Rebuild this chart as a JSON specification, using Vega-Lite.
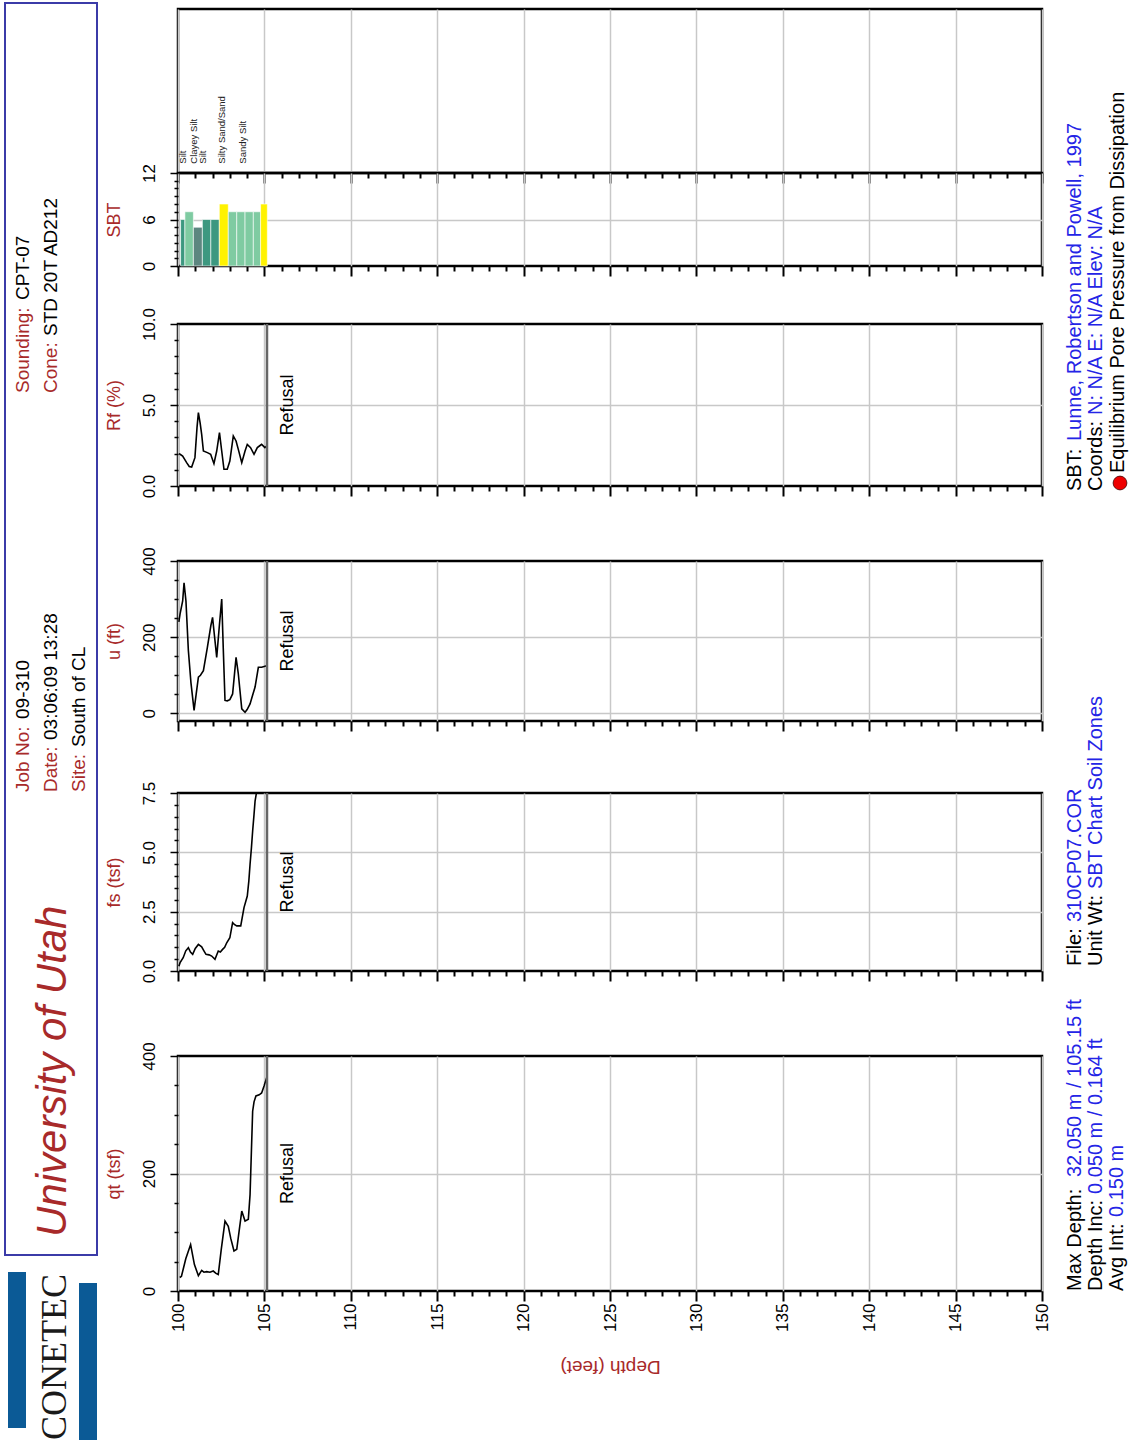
{
  "$schema": "https://vega.github.io/schema/vega-lite/v6.json",
  "padding": {"left": 4, "top": 2, "right": 0, "bottom": 0},
  "background": "#ffffff",
  "config": {
    "font": "Liberation Sans",
    "view": {"stroke": "#000000", "strokeWidth": 2.5},
    "text": {"font": "Liberation Sans"},
    "axis": {
      "labelFont": "Liberation Sans", "labelFontSize": 17, "labelColor": "#000000",
      "titleFont": "Liberation Sans", "titleFontSize": 18, "titleFontWeight": "normal", "titleColor": "#a82a2a",
      "tickColor": "#000000", "gridColor": "#c8c8c8", "gridWidth": 1.5
    }
  },
  "datasets": {
    "qt": [
      {"depth": 100.1, "v": 23}, {"depth": 100.2, "v": 25}, {"depth": 100.45, "v": 55}, {"depth": 100.73, "v": 79},
      {"depth": 100.95, "v": 45}, {"depth": 101.18, "v": 26}, {"depth": 101.37, "v": 35}, {"depth": 101.5, "v": 32},
      {"depth": 101.66, "v": 33}, {"depth": 101.85, "v": 32}, {"depth": 102.04, "v": 34}, {"depth": 102.2, "v": 30},
      {"depth": 102.33, "v": 28}, {"depth": 102.5, "v": 70}, {"depth": 102.72, "v": 119}, {"depth": 102.91, "v": 110},
      {"depth": 103.05, "v": 90}, {"depth": 103.24, "v": 68}, {"depth": 103.4, "v": 71}, {"depth": 103.55, "v": 105},
      {"depth": 103.69, "v": 136}, {"depth": 103.88, "v": 119}, {"depth": 104.07, "v": 122}, {"depth": 104.17, "v": 164},
      {"depth": 104.25, "v": 240}, {"depth": 104.32, "v": 306}, {"depth": 104.4, "v": 322}, {"depth": 104.51, "v": 332},
      {"depth": 104.7, "v": 334}, {"depth": 104.84, "v": 337}, {"depth": 104.98, "v": 349}, {"depth": 105.13, "v": 363}
    ],
    "fs": [
      {"depth": 100.05, "v": 0.2}, {"depth": 100.12, "v": 0.35}, {"depth": 100.3, "v": 0.56}, {"depth": 100.45, "v": 0.85},
      {"depth": 100.6, "v": 0.98}, {"depth": 100.72, "v": 0.8}, {"depth": 100.85, "v": 0.7}, {"depth": 101.0, "v": 0.95},
      {"depth": 101.18, "v": 1.12}, {"depth": 101.37, "v": 1.02}, {"depth": 101.5, "v": 0.85}, {"depth": 101.62, "v": 0.7},
      {"depth": 101.8, "v": 0.68}, {"depth": 101.95, "v": 0.63}, {"depth": 102.14, "v": 0.49}, {"depth": 102.33, "v": 0.84},
      {"depth": 102.45, "v": 0.8}, {"depth": 102.58, "v": 0.91}, {"depth": 102.7, "v": 1.0}, {"depth": 102.82, "v": 1.19},
      {"depth": 103.0, "v": 1.4}, {"depth": 103.16, "v": 2.04}, {"depth": 103.28, "v": 1.95}, {"depth": 103.4, "v": 1.9},
      {"depth": 103.63, "v": 1.9}, {"depth": 103.82, "v": 2.67}, {"depth": 104.01, "v": 3.16}, {"depth": 104.1, "v": 3.8},
      {"depth": 104.17, "v": 4.5}, {"depth": 104.25, "v": 5.2}, {"depth": 104.32, "v": 5.9}, {"depth": 104.4, "v": 6.6},
      {"depth": 104.46, "v": 7.16}, {"depth": 104.55, "v": 7.55}, {"depth": 104.7, "v": 8.6}, {"depth": 104.9, "v": 10},
      {"depth": 105.13, "v": 11.5}
    ],
    "u": [
      {"depth": 100.05, "v": 240}, {"depth": 100.12, "v": 261}, {"depth": 100.27, "v": 295}, {"depth": 100.35, "v": 343},
      {"depth": 100.46, "v": 295}, {"depth": 100.6, "v": 165}, {"depth": 100.75, "v": 80}, {"depth": 100.93, "v": 8},
      {"depth": 101.05, "v": 50}, {"depth": 101.18, "v": 95}, {"depth": 101.3, "v": 100}, {"depth": 101.47, "v": 112},
      {"depth": 101.7, "v": 173}, {"depth": 101.9, "v": 230}, {"depth": 102.0, "v": 252}, {"depth": 102.08, "v": 217},
      {"depth": 102.24, "v": 147}, {"depth": 102.4, "v": 234}, {"depth": 102.53, "v": 300}, {"depth": 102.62, "v": 170},
      {"depth": 102.72, "v": 34}, {"depth": 102.85, "v": 33}, {"depth": 103.0, "v": 36}, {"depth": 103.16, "v": 51},
      {"depth": 103.36, "v": 147}, {"depth": 103.49, "v": 104}, {"depth": 103.69, "v": 12}, {"depth": 103.88, "v": 3},
      {"depth": 104.0, "v": 10}, {"depth": 104.17, "v": 25}, {"depth": 104.3, "v": 45}, {"depth": 104.46, "v": 69},
      {"depth": 104.65, "v": 121}, {"depth": 104.84, "v": 121}, {"depth": 105.13, "v": 125}
    ],
    "rf": [
      {"depth": 100.05, "v": 2.0}, {"depth": 100.12, "v": 1.96}, {"depth": 100.27, "v": 1.85}, {"depth": 100.5, "v": 1.44},
      {"depth": 100.65, "v": 1.2}, {"depth": 100.79, "v": 1.17}, {"depth": 100.98, "v": 1.75}, {"depth": 101.1, "v": 3.6},
      {"depth": 101.18, "v": 4.53}, {"depth": 101.28, "v": 3.9}, {"depth": 101.37, "v": 3.19}, {"depth": 101.47, "v": 2.16},
      {"depth": 101.7, "v": 2.06}, {"depth": 101.89, "v": 1.96}, {"depth": 102.08, "v": 1.38}, {"depth": 102.24, "v": 2.16},
      {"depth": 102.4, "v": 3.29}, {"depth": 102.53, "v": 2.16}, {"depth": 102.66, "v": 1.03}, {"depth": 102.85, "v": 1.03},
      {"depth": 103.0, "v": 1.54}, {"depth": 103.2, "v": 3.09}, {"depth": 103.36, "v": 2.78}, {"depth": 103.49, "v": 2.26},
      {"depth": 103.69, "v": 1.44}, {"depth": 103.88, "v": 2.16}, {"depth": 104.01, "v": 2.57}, {"depth": 104.2, "v": 2.37},
      {"depth": 104.4, "v": 1.96}, {"depth": 104.59, "v": 2.37}, {"depth": 104.75, "v": 2.5}, {"depth": 104.84, "v": 2.57},
      {"depth": 105.03, "v": 2.37}, {"depth": 105.13, "v": 2.47}
    ],
    "sbt": [
      {"depth": 100.15, "depth_end": 100.4, "zone": 6}, {"depth": 100.4, "depth_end": 100.89, "zone": 7},
      {"depth": 100.89, "depth_end": 101.41, "zone": 5}, {"depth": 101.41, "depth_end": 101.9, "zone": 6},
      {"depth": 101.9, "depth_end": 102.39, "zone": 6}, {"depth": 102.39, "depth_end": 102.91, "zone": 8},
      {"depth": 102.91, "depth_end": 103.4, "zone": 7}, {"depth": 103.4, "depth_end": 103.88, "zone": 7},
      {"depth": 103.88, "depth_end": 104.36, "zone": 7}, {"depth": 104.36, "depth_end": 104.78, "zone": 7},
      {"depth": 104.78, "depth_end": 105.17, "zone": 8}
    ],
    "sbt_labels": [
      {"depth": 100.31, "label": "Silt"}, {"depth": 100.93, "label": "Clayey Silt"}, {"depth": 101.47, "label": "Silt"},
      {"depth": 102.53, "label": "Silty Sand/Sand"}, {"depth": 103.74, "label": "Sandy Silt"}
    ],
    "refusal": [{"depth": 105.15, "label": "Refusal"}],
    "header_box": [{"across": 5, "across2": 97, "along": 3, "along2": 1255}],
    "logo_bars": [
      {"across": 8, "across2": 26, "along": 1272, "along2": 1428},
      {"across": 79, "across2": 97, "along": 1283, "along2": 1440}
    ],
    "logo_text": [{"across": 55, "along": 1440, "text": "CONETEC"}],
    "header_labels": [
      {"across": 23, "along": 393, "text": "Sounding:"}, {"across": 51, "along": 393, "text": "Cone:"},
      {"across": 23, "along": 792, "text": "Job No:"}, {"across": 51, "along": 792, "text": "Date:"},
      {"across": 79, "along": 792, "text": "Site:"}
    ],
    "header_values": [
      {"across": 23, "along": 300, "text": "CPT-07"}, {"across": 51, "along": 336, "text": "STD 20T  AD212"},
      {"across": 23, "along": 719, "text": "09-310"}, {"across": 51, "along": 740, "text": "03:06:09  13:28"},
      {"across": 79, "along": 747, "text": "South of CL"}
    ],
    "header_title": [{"across": 53, "along": 1237, "text": "University of Utah"}],
    "footer_labels": [
      {"across": 1073, "along": 1290, "text": "Max Depth:"}, {"across": 1094, "along": 1290, "text": "Depth Inc:"},
      {"across": 1115, "along": 1290, "text": "Avg Int:"}, {"across": 1073, "along": 965, "text": "File:"},
      {"across": 1094, "along": 965, "text": "Unit Wt:"}, {"across": 1073, "along": 490, "text": "SBT:"},
      {"across": 1094, "along": 490, "text": "Coords:"},
      {"across": 1116, "along": 472, "text": "Equilibrium Pore Pressure from Dissipation"}
    ],
    "footer_values": [
      {"across": 1073, "along": 1176, "text": "32.050 m /  105.15 ft"}, {"across": 1094, "along": 1193, "text": "0.050 m / 0.164 ft"},
      {"across": 1115, "along": 1216, "text": "0.150 m"}, {"across": 1073, "along": 921, "text": "310CP07.COR"},
      {"across": 1094, "along": 888, "text": "SBT Chart Soil Zones"}, {"across": 1073, "along": 440, "text": "Lunne, Robertson and Powell, 1997"},
      {"across": 1094, "along": 414, "text": "N: N/A E: N/A Elev: N/A"}
    ],
    "footer_marker": [{"across": 1118, "along": 482}]
  },
  "hconcat": [
    {
      "width": 92, "height": 1437,
      "view": {"stroke": null},
      "encoding": {
        "x": {"field": "across", "type": "quantitative", "scale": {"domain": [5, 97], "nice": false, "zero": false}, "axis": null},
        "y": {"field": "along", "type": "quantitative", "scale": {"domain": [3, 1440], "nice": false, "zero": false, "reverse": true}, "axis": null}
      },
      "layer": [
        {"data": {"name": "header_box"}, "mark": {"type": "rect", "filled": false, "color": "#3b3ba8", "strokeWidth": 2},
         "encoding": {"x2": {"field": "across2"}, "y2": {"field": "along2"}}},
        {"data": {"name": "logo_bars"}, "mark": {"type": "rect", "color": "#0b5a96"},
         "encoding": {"x2": {"field": "across2"}, "y2": {"field": "along2"}}},
        {"data": {"name": "logo_text"}, "mark": {"type": "text", "angle": 270, "align": "left", "baseline": "middle", "font": "Liberation Serif", "fontSize": 36, "color": "#1a1a1a"},
         "encoding": {"text": {"field": "text"}}},
        {"data": {"name": "header_labels"}, "mark": {"type": "text", "angle": 270, "align": "left", "baseline": "middle", "fontSize": 19, "color": "#a82a2a"},
         "encoding": {"text": {"field": "text"}}},
        {"data": {"name": "header_values"}, "mark": {"type": "text", "angle": 270, "align": "left", "baseline": "middle", "fontSize": 19, "color": "#000000"},
         "encoding": {"text": {"field": "text"}}},
        {"data": {"name": "header_title"}, "mark": {"type": "text", "angle": 270, "align": "left", "baseline": "middle", "fontSize": 42, "fontStyle": "italic", "color": "#a82a2a"},
         "encoding": {"text": {"field": "text"}}}
      ]
    },
    {
      "vconcat": [
        {"width": 864, "height": 6, "data": {"values": []}, "mark": "point", "view": {"stroke": null}},
        {
          "width": 864, "height": 164,
          "data": {"name": "sbt_labels"},
          "mark": {"type": "text", "angle": 270, "align": "left", "baseline": "middle", "fontSize": 9.5, "color": "#222222"},
          "encoding": {
            "x": {"field": "depth", "type": "quantitative", "scale": {"domain": [100, 150], "nice": false, "zero": false},
                  "axis": {"values": [100,101,102,103,104,105,106,107,108,109,110,111,112,113,114,115,116,117,118,119,120,121,122,123,124,125,126,127,128,129,130,131,132,133,134,135,136,137,138,139,140,141,142,143,144,145,146,147,148,149,150],
                           "labels": false, "title": null, "domain": false, "grid": true,
                           "gridOpacity": {"condition": {"test": "datum.value % 5 === 0", "value": 1}, "value": 0},
                           "tickSize": {"condition": {"test": "datum.value % 5 === 0", "value": 10}, "value": 5}, "tickWidth": 2}},
            "y": {"datum": 13.2, "type": "quantitative", "scale": {"domain": [12, 33.16], "nice": false, "zero": false}, "axis": null},
            "text": {"field": "label"}
          }
        },
        {
          "width": 864, "height": 93,
          "data": {"name": "sbt"},
          "mark": {"type": "bar", "stroke": "#ffffff", "strokeWidth": 0.6},
          "encoding": {
            "x": {"field": "depth", "type": "quantitative", "scale": {"domain": [100, 150], "nice": false, "zero": false},
                  "axis": {"values": [100,101,102,103,104,105,106,107,108,109,110,111,112,113,114,115,116,117,118,119,120,121,122,123,124,125,126,127,128,129,130,131,132,133,134,135,136,137,138,139,140,141,142,143,144,145,146,147,148,149,150],
                           "labels": false, "title": null, "domain": false, "grid": true,
                           "gridOpacity": {"condition": {"test": "datum.value % 5 === 0", "value": 1}, "value": 0},
                           "tickSize": {"condition": {"test": "datum.value % 5 === 0", "value": 10}, "value": 5}, "tickWidth": 2}},
            "x2": {"field": "depth_end"},
            "y": {"field": "zone", "type": "quantitative", "scale": {"domain": [0, 12], "nice": false},
                  "axis": {"values": [0,1,2,3,4,5,6,7,8,9,10,11,12], "labelExpr": "datum.value % 6 === 0 ? datum.label : ''",
                           "labelAngle": 270, "labelAlign": "center", "labelBaseline": "bottom", "labelPadding": 12, "labelFlush": false, "labelOverlap": false,
                           "domain": false, "grid": true, "gridOpacity": {"condition": {"test": "datum.value === 6", "value": 1}, "value": 0},
                           "tickSize": {"condition": {"test": "datum.value % 6 === 0", "value": 8}, "value": 4}, "tickWidth": 1.5,
                           "title": "SBT", "titlePadding": 17}},
            "y2": {"datum": 0},
            "color": {"field": "zone", "type": "nominal", "scale": {"domain": [5, 6, 7, 8], "range": ["#5d8680", "#3d9880", "#7fcba2", "#fff200"]}, "legend": null}
          }
        },
        {"width": 864, "height": 58, "data": {"values": []}, "mark": "point", "view": {"stroke": null}},
        {
          "width": 864, "height": 162,
          "encoding": {
            "x": {"field": "depth", "type": "quantitative", "scale": {"domain": [100, 150], "nice": false, "zero": false},
                  "axis": {"values": [100,101,102,103,104,105,106,107,108,109,110,111,112,113,114,115,116,117,118,119,120,121,122,123,124,125,126,127,128,129,130,131,132,133,134,135,136,137,138,139,140,141,142,143,144,145,146,147,148,149,150],
                           "labels": false, "title": null, "domain": false, "grid": true,
                           "gridOpacity": {"condition": {"test": "datum.value % 5 === 0", "value": 1}, "value": 0},
                           "tickSize": {"condition": {"test": "datum.value % 5 === 0", "value": 10}, "value": 5}, "tickWidth": 2}}
          },
          "layer": [
            {"data": {"name": "rf"}, "mark": {"type": "line", "color": "#000000", "strokeWidth": 1.6, "clip": true},
             "encoding": {
               "y": {"field": "v", "type": "quantitative", "scale": {"domain": [0, 10], "nice": false},
                     "axis": {"values": [0,1,2,3,4,5,6,7,8,9,10], "labelExpr": "datum.value % 5 === 0 ? format(datum.value, '.1f') : ''",
                              "labelAngle": 270, "labelAlign": "center", "labelBaseline": "bottom", "labelPadding": 12, "labelFlush": false, "labelOverlap": false,
                              "domain": false, "grid": true, "gridOpacity": {"condition": {"test": "datum.value === 5", "value": 1}, "value": 0},
                              "tickSize": {"condition": {"test": "datum.value % 5 === 0", "value": 8}, "value": 4}, "tickWidth": 1.5,
                              "title": "Rf (%)", "titlePadding": 17}}
             }},
            {"data": {"name": "refusal"}, "mark": {"type": "rule", "color": "#666666", "strokeWidth": 2.5}, "encoding": {}},
            {"data": {"name": "refusal"}, "mark": {"type": "text", "angle": 270, "align": "center", "baseline": "middle", "dy": 21, "fontSize": 18, "color": "#000000"},
             "encoding": {
               "y": {"datum": 5, "type": "quantitative", "scale": {"domain": [0, 10], "nice": false},
                     "axis": {"values": [0,1,2,3,4,5,6,7,8,9,10], "labelExpr": "datum.value % 5 === 0 ? format(datum.value, '.1f') : ''",
                              "labelAngle": 270, "labelAlign": "center", "labelBaseline": "bottom", "labelPadding": 12, "labelFlush": false, "labelOverlap": false,
                              "domain": false, "grid": true, "gridOpacity": {"condition": {"test": "datum.value === 5", "value": 1}, "value": 0},
                              "tickSize": {"condition": {"test": "datum.value % 5 === 0", "value": 8}, "value": 4}, "tickWidth": 1.5,
                              "title": "Rf (%)", "titlePadding": 17}},
               "text": {"field": "label"}}}
          ]
        },
        {"width": 864, "height": 75, "data": {"values": []}, "mark": "point", "view": {"stroke": null}},
        {
          "width": 864, "height": 160,
          "encoding": {
            "x": {"field": "depth", "type": "quantitative", "scale": {"domain": [100, 150], "nice": false, "zero": false},
                  "axis": {"values": [100,101,102,103,104,105,106,107,108,109,110,111,112,113,114,115,116,117,118,119,120,121,122,123,124,125,126,127,128,129,130,131,132,133,134,135,136,137,138,139,140,141,142,143,144,145,146,147,148,149,150],
                           "labels": false, "title": null, "domain": false, "grid": true,
                           "gridOpacity": {"condition": {"test": "datum.value % 5 === 0", "value": 1}, "value": 0},
                           "tickSize": {"condition": {"test": "datum.value % 5 === 0", "value": 10}, "value": 5}, "tickWidth": 2}}
          },
          "layer": [
            {"data": {"name": "u"}, "mark": {"type": "line", "color": "#000000", "strokeWidth": 1.6, "clip": true},
             "encoding": {
               "y": {"field": "v", "type": "quantitative", "scale": {"domain": [-20, 400], "nice": false, "zero": false},
                     "axis": {"values": [0,50,100,150,200,250,300,350,400], "labelExpr": "datum.value % 200 === 0 ? datum.label : ''",
                              "labelAngle": 270, "labelAlign": "center", "labelBaseline": "bottom", "labelPadding": 12, "labelFlush": false, "labelOverlap": false,
                              "domain": false, "grid": true, "gridOpacity": {"condition": {"test": "datum.value === 0 || datum.value === 200", "value": 1}, "value": 0},
                              "tickSize": {"condition": {"test": "datum.value % 200 === 0", "value": 8}, "value": 4}, "tickWidth": 1.5,
                              "title": "u (ft)", "titlePadding": 17}}
             }},
            {"data": {"name": "refusal"}, "mark": {"type": "rule", "color": "#666666", "strokeWidth": 2.5}, "encoding": {}},
            {"data": {"name": "refusal"}, "mark": {"type": "text", "angle": 270, "align": "center", "baseline": "middle", "dy": 21, "fontSize": 18, "color": "#000000"},
             "encoding": {
               "y": {"datum": 190, "type": "quantitative", "scale": {"domain": [-20, 400], "nice": false, "zero": false},
                     "axis": {"values": [0,50,100,150,200,250,300,350,400], "labelExpr": "datum.value % 200 === 0 ? datum.label : ''",
                              "labelAngle": 270, "labelAlign": "center", "labelBaseline": "bottom", "labelPadding": 12, "labelFlush": false, "labelOverlap": false,
                              "domain": false, "grid": true, "gridOpacity": {"condition": {"test": "datum.value === 0 || datum.value === 200", "value": 1}, "value": 0},
                              "tickSize": {"condition": {"test": "datum.value % 200 === 0", "value": 8}, "value": 4}, "tickWidth": 1.5,
                              "title": "u (ft)", "titlePadding": 17}},
               "text": {"field": "label"}}}
          ]
        },
        {"width": 864, "height": 72, "data": {"values": []}, "mark": "point", "view": {"stroke": null}},
        {
          "width": 864, "height": 178,
          "encoding": {
            "x": {"field": "depth", "type": "quantitative", "scale": {"domain": [100, 150], "nice": false, "zero": false},
                  "axis": {"values": [100,101,102,103,104,105,106,107,108,109,110,111,112,113,114,115,116,117,118,119,120,121,122,123,124,125,126,127,128,129,130,131,132,133,134,135,136,137,138,139,140,141,142,143,144,145,146,147,148,149,150],
                           "labels": false, "title": null, "domain": false, "grid": true,
                           "gridOpacity": {"condition": {"test": "datum.value % 5 === 0", "value": 1}, "value": 0},
                           "tickSize": {"condition": {"test": "datum.value % 5 === 0", "value": 10}, "value": 5}, "tickWidth": 2}}
          },
          "layer": [
            {"data": {"name": "fs"}, "mark": {"type": "line", "color": "#000000", "strokeWidth": 1.6, "clip": true},
             "encoding": {
               "y": {"field": "v", "type": "quantitative", "scale": {"domain": [0, 7.5], "nice": false},
                     "axis": {"values": [0,0.5,1,1.5,2,2.5,3,3.5,4,4.5,5,5.5,6,6.5,7,7.5], "labelExpr": "datum.value % 2.5 === 0 ? format(datum.value, '.1f') : ''",
                              "labelAngle": 270, "labelAlign": "center", "labelBaseline": "bottom", "labelPadding": 12, "labelFlush": false, "labelOverlap": false,
                              "domain": false, "grid": true, "gridOpacity": {"condition": {"test": "datum.value === 2.5 || datum.value === 5", "value": 1}, "value": 0},
                              "tickSize": {"condition": {"test": "datum.value % 2.5 === 0", "value": 8}, "value": 4}, "tickWidth": 1.5,
                              "title": "fs (tsf)", "titlePadding": 17}}
             }},
            {"data": {"name": "refusal"}, "mark": {"type": "rule", "color": "#666666", "strokeWidth": 2.5}, "encoding": {}},
            {"data": {"name": "refusal"}, "mark": {"type": "text", "angle": 270, "align": "center", "baseline": "middle", "dy": 21, "fontSize": 18, "color": "#000000"},
             "encoding": {
               "y": {"datum": 3.75, "type": "quantitative", "scale": {"domain": [0, 7.5], "nice": false},
                     "axis": {"values": [0,0.5,1,1.5,2,2.5,3,3.5,4,4.5,5,5.5,6,6.5,7,7.5], "labelExpr": "datum.value % 2.5 === 0 ? format(datum.value, '.1f') : ''",
                              "labelAngle": 270, "labelAlign": "center", "labelBaseline": "bottom", "labelPadding": 12, "labelFlush": false, "labelOverlap": false,
                              "domain": false, "grid": true, "gridOpacity": {"condition": {"test": "datum.value === 2.5 || datum.value === 5", "value": 1}, "value": 0},
                              "tickSize": {"condition": {"test": "datum.value % 2.5 === 0", "value": 8}, "value": 4}, "tickWidth": 1.5,
                              "title": "fs (tsf)", "titlePadding": 17}},
               "text": {"field": "label"}}}
          ]
        },
        {"width": 864, "height": 85, "data": {"values": []}, "mark": "point", "view": {"stroke": null}},
        {
          "width": 864, "height": 235,
          "encoding": {
            "x": {"field": "depth", "type": "quantitative", "scale": {"domain": [100, 150], "nice": false, "zero": false},
                  "axis": {"values": [100,101,102,103,104,105,106,107,108,109,110,111,112,113,114,115,116,117,118,119,120,121,122,123,124,125,126,127,128,129,130,131,132,133,134,135,136,137,138,139,140,141,142,143,144,145,146,147,148,149,150],
                           "labelExpr": "datum.value % 5 === 0 ? datum.label : ''", "labelAngle": 270, "labelAlign": "right", "labelBaseline": "middle",
                           "labelPadding": 2, "labelFlush": false, "labelOverlap": false,
                           "title": "Depth (feet)", "titleAngle": 180, "titleBaseline": "bottom", "titlePadding": 25, "titleFontSize": 19,
                           "domain": false, "grid": true,
                           "gridOpacity": {"condition": {"test": "datum.value % 5 === 0", "value": 1}, "value": 0},
                           "tickSize": {"condition": {"test": "datum.value % 5 === 0", "value": 10}, "value": 5}, "tickWidth": 2}}
          },
          "layer": [
            {"data": {"name": "qt"}, "mark": {"type": "line", "color": "#000000", "strokeWidth": 1.6, "clip": true},
             "encoding": {
               "y": {"field": "v", "type": "quantitative", "scale": {"domain": [0, 400], "nice": false},
                     "axis": {"values": [0,50,100,150,200,250,300,350,400], "labelExpr": "datum.value % 200 === 0 ? datum.label : ''",
                              "labelAngle": 270, "labelAlign": "center", "labelBaseline": "bottom", "labelPadding": 12, "labelFlush": false, "labelOverlap": false,
                              "domain": false, "grid": true, "gridOpacity": {"condition": {"test": "datum.value === 200", "value": 1}, "value": 0},
                              "tickSize": {"condition": {"test": "datum.value % 200 === 0", "value": 8}, "value": 4}, "tickWidth": 1.5,
                              "title": "qt (tsf)", "titlePadding": 17}}
             }},
            {"data": {"name": "refusal"}, "mark": {"type": "rule", "color": "#666666", "strokeWidth": 2.5}, "encoding": {}},
            {"data": {"name": "refusal"}, "mark": {"type": "text", "angle": 270, "align": "center", "baseline": "middle", "dy": 21, "fontSize": 18, "color": "#000000"},
             "encoding": {
               "y": {"datum": 200, "type": "quantitative", "scale": {"domain": [0, 400], "nice": false},
                     "axis": {"values": [0,50,100,150,200,250,300,350,400], "labelExpr": "datum.value % 200 === 0 ? datum.label : ''",
                              "labelAngle": 270, "labelAlign": "center", "labelBaseline": "bottom", "labelPadding": 12, "labelFlush": false, "labelOverlap": false,
                              "domain": false, "grid": true, "gridOpacity": {"condition": {"test": "datum.value === 200", "value": 1}, "value": 0},
                              "tickSize": {"condition": {"test": "datum.value % 200 === 0", "value": 8}, "value": 4}, "tickWidth": 1.5,
                              "title": "qt (tsf)", "titlePadding": 17}},
               "text": {"field": "label"}}}
          ]
        }
      ],
      "spacing": 0,
      "bounds": "flush"
    },
    {
      "width": 75, "height": 1438,
      "view": {"stroke": null},
      "encoding": {
        "x": {"field": "across", "type": "quantitative", "scale": {"domain": [1055, 1130], "nice": false, "zero": false}, "axis": null},
        "y": {"field": "along", "type": "quantitative", "scale": {"domain": [2, 1440], "nice": false, "zero": false, "reverse": true}, "axis": null}
      },
      "layer": [
        {"data": {"name": "footer_labels"}, "mark": {"type": "text", "angle": 270, "align": "left", "baseline": "middle", "fontSize": 20, "color": "#000000"},
         "encoding": {"text": {"field": "text"}}},
        {"data": {"name": "footer_values"}, "mark": {"type": "text", "angle": 270, "align": "left", "baseline": "middle", "fontSize": 20, "color": "#2424e6"},
         "encoding": {"text": {"field": "text"}}},
        {"data": {"name": "footer_marker"}, "mark": {"type": "point", "filled": true, "shape": "circle", "size": 190, "color": "#ee0000", "stroke": "#400000", "strokeWidth": 0.8, "opacity": 1}}
      ]
    }
  ],
  "spacing": 5
}
